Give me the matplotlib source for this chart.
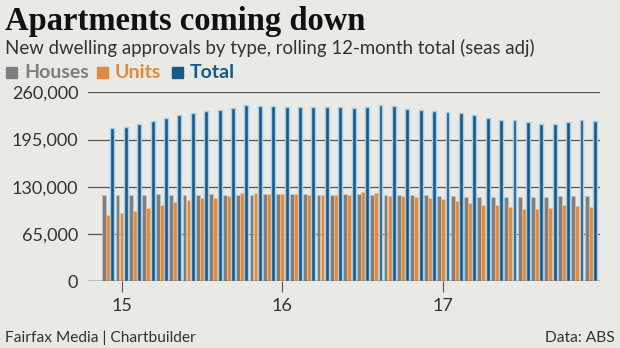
import matplotlib.pyplot as plt
import numpy as np

# Monthly, Dec 2014 .. Dec 2017
houses = [118300, 118300, 118300, 118300, 119700, 119200, 119200, 119200, 119700, 119200,
          119200, 119200, 119700, 119700, 119700, 120200, 119200, 118800, 119700, 119700,
          119200, 118300, 118800, 118300, 118300, 117400, 117000, 115600, 116000, 115600,
          115600, 116000, 116000, 116000, 116900, 116900, 116900]
units = [91700, 94000, 97200, 101400, 104600, 109100, 111900, 114200, 114700, 117400,
         121100, 121100, 120200, 119700, 120200, 118800, 119200, 118300, 118300, 122400,
         122000, 117400, 117400, 116000, 114200, 113300, 111000, 107800, 105500, 105000,
         102700, 99500, 99500, 101400, 105000, 103600, 102200]
total = [210500, 212800, 216000, 221000, 224700, 228800, 232000, 234300, 235300, 238900,
         242100, 241200, 241200, 239800, 239800, 239800, 240300, 239400, 238500, 239800,
         243100, 241700, 236600, 236200, 234300, 232500, 232100, 228400, 225200, 221500,
         221500, 219700, 216500, 216500, 218800, 222400, 221000]
year_ticks = [1, 13, 25]
year_labels = ['15', '16', '17']
y_ticks = [0, 65000, 130000, 195000, 260000]

bg = '#e9e9e5'
c_houses = '#7f7f7f'
c_units = '#e5893a'
c_total = '#16598a'
edge_light = '#a8cce4'
font = 'Lato'

fig = plt.figure(figsize=(6.2, 3.48), dpi=100, facecolor=bg)
ax = fig.add_axes([88 / 620, 1 - 281.3 / 348, 512 / 620, 189 / 348], facecolor=bg)

x = np.arange(len(total))
w = 0.29
ax.bar(x - 0.30, houses, w, color=c_houses, edgecolor='#c9c9c9', linewidth=0.4, zorder=3)
ax.bar(x, units, w, color=c_units, edgecolor='#f0c9a4', linewidth=0.4, zorder=3)
ax.bar(x + 0.32, total, w, color=c_total, edgecolor=edge_light, linewidth=1.0, zorder=3)

ax.set_xlim(-1.5, 36.7)
ax.set_ylim(0, 260000)
ax.set_yticks(y_ticks)
ax.set_yticklabels([f'{v:,}' for v in y_ticks])
ax.set_xticks(year_ticks)
ax.set_xticklabels(year_labels)
ax.grid(axis='y', color='#555555', linewidth=0.9, zorder=1)
for s in ax.spines.values():
    s.set_visible(False)
ax.axhline(0, color='#555555', linewidth=1.0, zorder=4)
ax.tick_params(axis='y', length=0, pad=7, labelsize=13, labelcolor='#333333')
ax.tick_params(axis='x', length=8, width=0.8, color='#555555', pad=4,
               labelsize=13, labelcolor='#333333')
for lab in ax.get_yticklabels() + ax.get_xticklabels():
    lab.set_fontfamily(font)

# header
fig.text(5 / 620, 1 - 30 / 348, 'Apartments coming down', fontsize=23.5, fontweight='bold',
         family='Liberation Serif', color='#111111', ha='left', va='baseline')
fig.text(5 / 620, 1 - 54 / 348,
         'New dwelling approvals by type, rolling 12-month total (seas adj)',
         fontsize=13.4, family=font, color='#333333', ha='left', va='baseline')

# legend
legend_items = [('Houses', c_houses, 6), ('Units', c_units, 97), ('Total', c_total, 172)]
for name, col, px in legend_items:
    fig.patches.append(plt.Rectangle((px / 620, 1 - 78 / 348), 11 / 620, 11 / 348,
                                     transform=fig.transFigure, color=col))
    fig.text((px + 18) / 620, 1 - 78 / 348, name, fontsize=14, fontweight='bold',
             family=font, color=col, ha='left', va='baseline')

# footer
fig.text(5 / 620, 1 - 342 / 348, 'Fairfax Media | Chartbuilder', fontsize=11.2,
         family=font, color='#333333', ha='left', va='baseline')
fig.text(615 / 620, 1 - 342 / 348, 'Data: ABS', fontsize=11.2,
         family=font, color='#333333', ha='right', va='baseline')

fig.savefig('out.png', dpi=100, facecolor=bg)
